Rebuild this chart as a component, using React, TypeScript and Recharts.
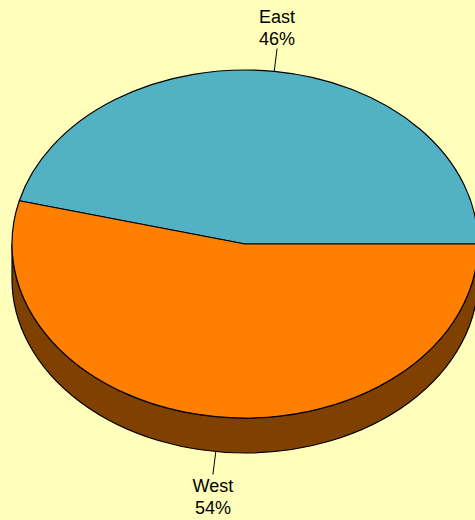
import React from 'react';
import { PieChart, Pie, Cell } from 'recharts';

const regions = ['East', 'West'];
const shares = [46, 54];
const topColors = ['#52B2C4', '#FF8000'];
const sideColors = ['#2A6470', '#804000'];

const data = regions.map((name, i) => ({ name, value: shares[i] }));

const RX = 233;
const RY = 174;
const RATIO = RY / RX;
const DEPTH = 35;
const RAD = Math.PI / 180;
const FONT = 'Liberation Sans, Arial, sans-serif';

const pt = (cx: number, cy: number, rx: number, a: number, dy = 0): [number, number] => [
  cx + rx * Math.cos(a * RAD),
  cy - rx * RATIO * Math.sin(a * RAD) + dy,
];

function TopShape(props: any) {
  const { cx, cy, outerRadius: r, startAngle, endAngle, fill } = props;
  const s = Math.min(startAngle, endAngle);
  const e = Math.max(startAngle, endAngle);
  const [x0, y0] = pt(cx, cy, r, s);
  const [x1, y1] = pt(cx, cy, r, e);
  const large = e - s > 180 ? 1 : 0;
  const d = `M${cx},${cy} L${x0},${y0} A${r},${r * RATIO} 0 ${large} 0 ${x1},${y1} Z`;
  return <path d={d} fill={fill} stroke="#000" strokeWidth={1.2} strokeLinejoin="round" />;
}

function SideShape(props: any) {
  const { cx, cy, outerRadius: r, startAngle, endAngle, fill } = props;
  const s = Math.max(Math.min(startAngle, endAngle), 180);
  const e = Math.min(Math.max(startAngle, endAngle), 360);
  if (e <= s) return <g />;
  const [x0, y0] = pt(cx, cy, r, s);
  const [x1, y1] = pt(cx, cy, r, e);
  const [x2, y2] = pt(cx, cy, r, e, DEPTH);
  const [x3, y3] = pt(cx, cy, r, s, DEPTH);
  const large = e - s > 180 ? 1 : 0;
  const ry = r * RATIO;
  const d = `M${x0},${y0} A${r},${ry} 0 ${large} 0 ${x1},${y1} L${x2},${y2} A${r},${ry} 0 ${large} 1 ${x3},${y3} Z`;
  return <path d={d} fill={fill} stroke="#000" strokeWidth={1.2} strokeLinejoin="round" />;
}

const renderLabel = (p: any) => {
  const { cx, cy, midAngle, outerRadius: r, name, percent } = p;
  const c = Math.cos(midAngle * RAD);
  const s = Math.sin(midAngle * RAD);
  let [x0, y0] = pt(cx, cy, r, midAngle);
  if (s < 0) y0 += DEPTH;
  const L = 23;
  const x1 = x0 + L * c;
  const y1 = y0 - L * s;
  const pct = `${Math.round(percent * 100)}%`;
  const upper = s >= 0;
  const ty = upper ? y1 - 26 : y1 + 18;
  return (
    <g>
      <line x1={x0} y1={y0} x2={x1} y2={y1} stroke="#000" strokeWidth={1} />
      <text x={x1} y={ty} textAnchor="middle" fontSize={18} fill="#000" fontFamily={FONT}>
        <tspan x={x1} dy={0}>{name}</tspan>
        <tspan x={x1} dy={22}>{pct}</tspan>
      </text>
    </g>
  );
};

export default function App() {
  return (
    <div style={{ position: 'absolute', left: 0, top: 0, width: 475, height: 520, background: '#FFFFBB', overflow: 'hidden' }}>
      <PieChart width={475} height={520} margin={{ top: 0, right: 0, bottom: 0, left: 0 }}>
        <Pie
          data={data}
          dataKey="value"
          nameKey="name"
          cx={245}
          cy={244}
          outerRadius={RX}
          startAngle={0}
          endAngle={360}
          stroke="#000"
          isAnimationActive={false}
          label={false}
          labelLine={false}
          shape={SideShape as any}
          activeShape={SideShape as any}
          inactiveShape={SideShape as any}
        >
          {data.map((d, i) => (
            <Cell key={d.name} fill={sideColors[i]} />
          ))}
        </Pie>
        <Pie
          data={data}
          dataKey="value"
          nameKey="name"
          cx={245}
          cy={244}
          outerRadius={RX}
          startAngle={0}
          endAngle={360}
          stroke="#000"
          isAnimationActive={false}
          label={renderLabel}
          labelLine={false}
          shape={TopShape as any}
          activeShape={TopShape as any}
          inactiveShape={TopShape as any}
        >
          {data.map((d, i) => (
            <Cell key={d.name} fill={topColors[i]} />
          ))}
        </Pie>
      </PieChart>
    </div>
  );
}
